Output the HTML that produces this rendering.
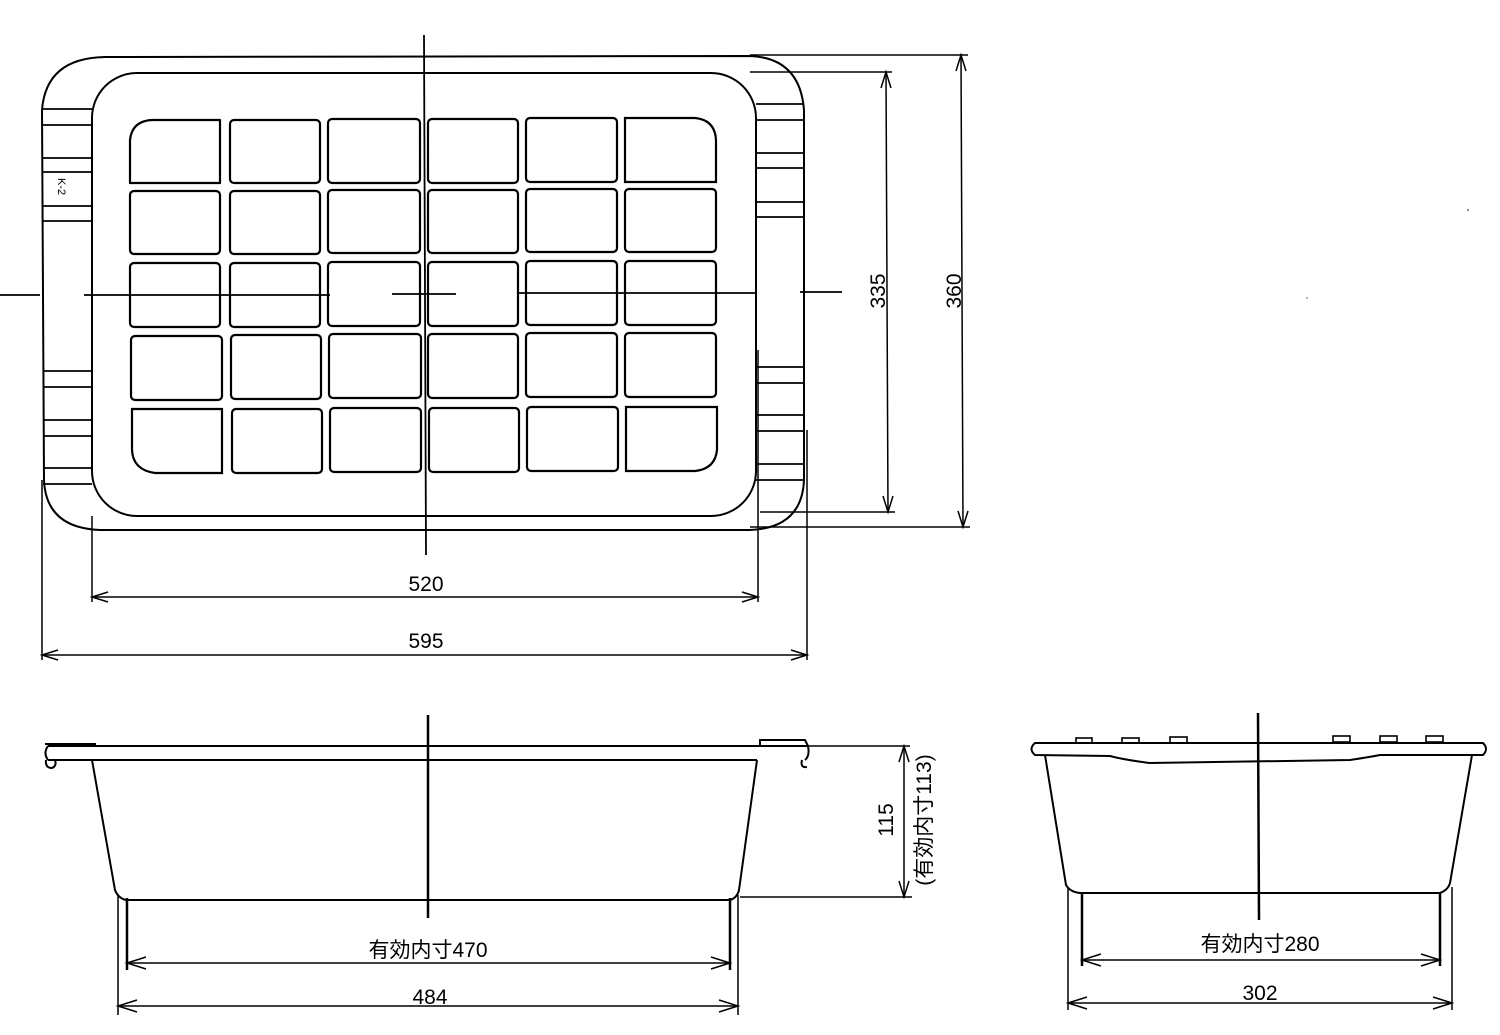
<!DOCTYPE html>
<html><head><meta charset="utf-8"><style>
html,body{margin:0;padding:0;background:#fff;}
svg{display:block;}
text{font-family:"Liberation Sans","Noto Sans CJK JP",sans-serif;fill:#000;}
</style></head><body>
<svg width="1500" height="1035" viewBox="0 0 1500 1035" xmlns="http://www.w3.org/2000/svg">
<g fill="none" stroke="#000" stroke-width="2">
<!-- outer outline -->
<path d="M42 110 Q46 58 105 57 L750 56 Q800 58 804 110 L804 480 Q802 528 750 530 L100 530 Q46 528 44 480 Z"/>
<!-- inner rounded rect -->
<rect x="92" y="73" width="664" height="443" rx="45"/>
<!-- left strips -->
<g stroke-width="1.8">
<line x1="43" y1="109" x2="92" y2="109"/><line x1="43" y1="125" x2="92" y2="125"/>
<line x1="43" y1="158" x2="92" y2="158"/><line x1="43" y1="172" x2="92" y2="172"/>
<line x1="43" y1="206" x2="92" y2="206"/><line x1="43" y1="221" x2="92" y2="221"/>
<line x1="43" y1="371" x2="92" y2="371"/><line x1="43" y1="387" x2="92" y2="387"/>
<line x1="43" y1="420" x2="92" y2="420"/><line x1="43" y1="436" x2="92" y2="436"/>
<line x1="43" y1="468" x2="92" y2="468"/><line x1="43" y1="484" x2="92" y2="484"/>
<line x1="756" y1="104" x2="804" y2="104"/><line x1="756" y1="120" x2="804" y2="120"/>
<line x1="756" y1="153" x2="804" y2="153"/><line x1="756" y1="168" x2="804" y2="168"/>
<line x1="756" y1="202" x2="804" y2="202"/><line x1="756" y1="217" x2="804" y2="217"/>
<line x1="756" y1="367" x2="804" y2="367"/><line x1="756" y1="383" x2="804" y2="383"/>
<line x1="756" y1="415" x2="804" y2="415"/><line x1="756" y1="431" x2="804" y2="431"/>
<line x1="756" y1="464" x2="804" y2="464"/><line x1="756" y1="480" x2="804" y2="480"/>
</g>
<!-- grid cells -->
<g stroke-width="2.2">
<path d="M130 183 L130 140 Q132 121 152 120 L220 120 L220 183 Z" stroke-linejoin="round"/>
<rect x="230" y="120" width="90" height="63" rx="4"/>
<rect x="328" y="119" width="92" height="64" rx="4"/>
<rect x="428" y="119" width="90" height="64" rx="4"/>
<rect x="526" y="118" width="91" height="64" rx="4"/>
<path d="M625 118 L695 118 Q715 120 716 140 L716 182 L625 182 Z"/>
<rect x="130" y="191" width="90" height="63" rx="4"/>
<rect x="230" y="191" width="90" height="63" rx="4"/>
<rect x="328" y="190" width="92" height="63" rx="4"/>
<rect x="428" y="190" width="90" height="63" rx="4"/>
<rect x="526" y="189" width="91" height="63" rx="4"/>
<rect x="625" y="189" width="91" height="63" rx="4"/>
<rect x="130" y="263" width="90" height="64" rx="4"/>
<rect x="230" y="263" width="90" height="64" rx="4"/>
<rect x="328" y="262" width="92" height="64" rx="4"/>
<rect x="428" y="262" width="90" height="64" rx="4"/>
<rect x="526" y="261" width="91" height="64" rx="4"/>
<rect x="625" y="261" width="91" height="64" rx="4"/>
<rect x="131" y="336" width="91" height="64" rx="4"/>
<rect x="231" y="335" width="90" height="64" rx="4"/>
<rect x="329" y="334" width="92" height="64" rx="4"/>
<rect x="428" y="334" width="90" height="64" rx="4"/>
<rect x="526" y="333" width="91" height="64" rx="4"/>
<rect x="625" y="333" width="91" height="64" rx="4"/>
<path d="M132 409 L222 409 L222 473 L155 473 Q133 470 132 450 Z"/>
<rect x="232" y="409" width="90" height="64" rx="4"/>
<rect x="330" y="408" width="91" height="64" rx="4"/>
<rect x="429" y="408" width="90" height="64" rx="4"/>
<rect x="527" y="407" width="91" height="64" rx="4"/>
<path d="M626 407 L717 407 L717 450 Q715 469 695 471 L626 471 Z"/>
</g>
<!-- centerlines -->
<g stroke-width="1.8">
<line x1="424" y1="35" x2="426" y2="555"/>
<line x1="0" y1="295" x2="40" y2="295"/>
<line x1="84" y1="295" x2="330" y2="295"/>
<line x1="392" y1="294" x2="456" y2="294"/>
<line x1="518" y1="293" x2="756" y2="293"/>
<line x1="800" y1="292" x2="842" y2="292"/>
</g>
<!-- dims top -->
<g stroke-width="1.5">
<line x1="750" y1="72" x2="892" y2="72"/><line x1="760" y1="512" x2="895" y2="512"/>
<line x1="886" y1="72" x2="888" y2="512"/>
<line x1="750" y1="55" x2="968" y2="55"/><line x1="750" y1="527" x2="970" y2="527"/>
<line x1="961" y1="55" x2="963" y2="527"/>
<line x1="92" y1="516" x2="92" y2="602"/><line x1="758" y1="350" x2="758" y2="602"/>
<line x1="92" y1="597" x2="758" y2="597"/>
<line x1="42" y1="480" x2="42" y2="660"/><line x1="807" y1="430" x2="807" y2="660"/>
<line x1="42" y1="655" x2="807" y2="655"/>
<path d="M881 88 L886 72 L891 88 M883 496 L888 512 L893 496"/>
<path d="M956 71 L961 55 L966 71 M958 511 L963 527 L968 511"/>
<path d="M108 592 L92 597 L108 602 M742 592 L758 597 L742 602"/>
<path d="M58 650 L42 655 L58 660 M791 650 L807 655 L791 660"/>
</g>
<!-- left side view -->
<path d="M48 746 L808 746 M48 760 L757 760 M45 744 L95 744 L95 746"/>
<path d="M48 746 Q43 753 48 760 M46 760 Q45 768 52 768 Q57 766 55 760"/>
<path d="M760 746 L760 740 L805 740 L808 746 Q810 756 805 760 M802 760 Q800 768 807 767"/>
<path d="M92 760 L115 890 Q118 898 126 900 L730 900 Q737 898 739 890 L757 760"/>
<line x1="428" y1="715" x2="428" y2="918" stroke-width="2.5"/>
<g stroke-width="1.5">
<line x1="118" y1="895" x2="118" y2="1015"/><line x1="127" y1="898" x2="127" y2="970" stroke-width="2.5"/>
<line x1="730" y1="898" x2="730" y2="970" stroke-width="2.5"/><line x1="738" y1="895" x2="738" y2="1015"/>
<line x1="127" y1="963" x2="730" y2="963"/><line x1="118" y1="1006" x2="738" y2="1006"/>
<path d="M146 957 L127 963 L146 969 M711 957 L730 963 L711 969"/>
<path d="M137 1000 L118 1006 L137 1012 M719 1000 L738 1006 L719 1012"/>
<line x1="808" y1="746" x2="910" y2="746"/><line x1="740" y1="897" x2="912" y2="897"/>
<line x1="904" y1="746" x2="904" y2="897"/>
<path d="M899 762 L904 746 L909 762 M899 881 L904 897 L909 881"/>
</g>
<!-- right side view -->
<path d="M1035 743 L1483 743 Q1489 749 1483 755 L1380 755 Q1370 757 1350 760 L1150 763 Q1125 760 1110 756 L1035 755 Q1028 749 1035 743 Z"/>
<g stroke-width="1.6">
<rect x="1076" y="738" width="16" height="5"/><rect x="1122" y="738" width="17" height="5"/>
<rect x="1170" y="737" width="17" height="6"/><rect x="1333" y="736" width="17" height="6"/>
<rect x="1380" y="736" width="17" height="6"/><rect x="1426" y="736" width="17" height="6"/>
</g>
<path d="M1045 755 L1066 885 Q1070 892 1080 893 L1440 893 Q1448 890 1450 883 L1472 755"/>
<line x1="1258" y1="713" x2="1259" y2="920" stroke-width="2.5"/>
<g stroke-width="1.5">
<line x1="1068" y1="887" x2="1068" y2="1010"/><line x1="1082" y1="893" x2="1082" y2="966" stroke-width="2.5"/>
<line x1="1440" y1="893" x2="1440" y2="966" stroke-width="2.5"/><line x1="1452" y1="887" x2="1452" y2="1010"/>
<line x1="1082" y1="960" x2="1440" y2="960"/><line x1="1068" y1="1003" x2="1452" y2="1003"/>
<path d="M1101 954 L1082 960 L1101 966 M1421 954 L1440 960 L1421 966"/>
<path d="M1087 997 L1068 1003 L1087 1009 M1433 997 L1452 1003 L1433 1009"/>
</g>
</g>
<!-- labels -->
<text x="0" y="0" font-size="11" transform="translate(58,178) rotate(90)">K-2</text>
<text font-size="21" text-anchor="middle" transform="translate(885,291) rotate(-90)">335</text>
<text font-size="21" text-anchor="middle" transform="translate(961,291) rotate(-90)">360</text>
<text x="426" y="591" font-size="21" text-anchor="middle">520</text>
<text x="426" y="648" font-size="21" text-anchor="middle">595</text>
<text x="428" y="957" font-size="21" text-anchor="middle">有効内寸470</text>
<text x="430" y="1004" font-size="21" text-anchor="middle">484</text>
<text x="1260" y="951" font-size="21" text-anchor="middle">有効内寸280</text>
<text x="1260" y="1000" font-size="21" text-anchor="middle">302</text>
<text font-size="21" text-anchor="middle" transform="translate(893,820) rotate(-90)">115</text>
<text font-size="21" text-anchor="middle" transform="translate(931,820) rotate(-90)">(有効内寸113)</text>
<circle cx="1468" cy="210" r="0.8" fill="#000"/>
<circle cx="1307" cy="298" r="0.6" fill="#000"/>
</svg>
</body></html>
